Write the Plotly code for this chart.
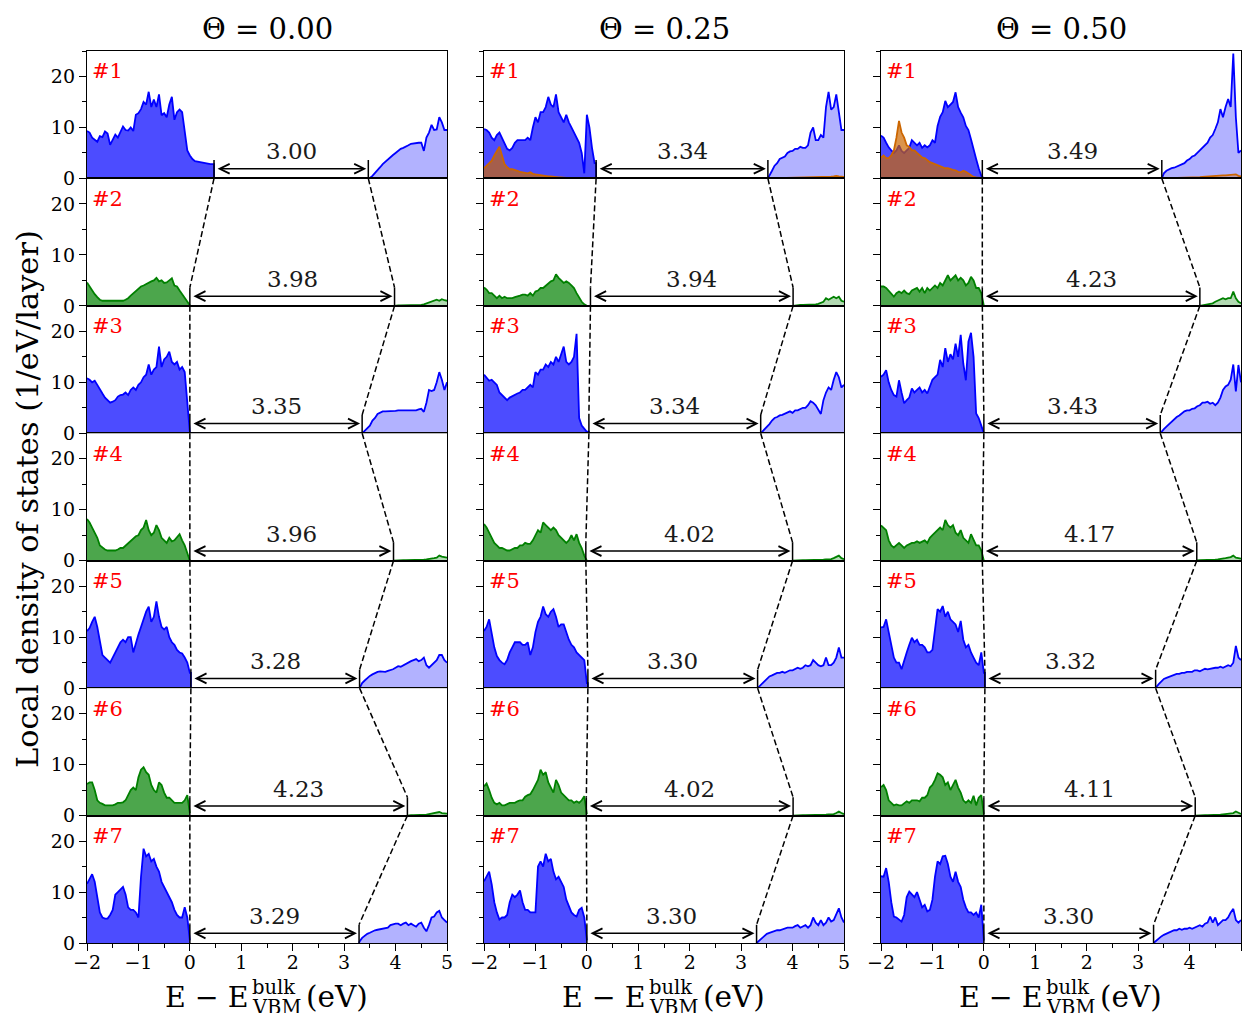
import plotly.graph_objects as go

W, H = 1244, 1013

THETA_LABELS = ["Θ = 0.00", "Θ = 0.25", "Θ = 0.50"]
LAYER_LABELS = ["#1", "#2", "#3", "#4", "#5", "#6", "#7"]
X_TICKS = [-2, -1, 0, 1, 2, 3, 4, 5]
Y_TICKS = [0, 10, 20]

# energy sampling grids (eV)
E_VB = [-2.0, -1.95, -1.9, -1.85, -1.8, -1.75, -1.7, -1.65, -1.6, -1.55, -1.5, -1.45, -1.4, -1.35,
        -1.3, -1.25, -1.2, -1.15, -1.1, -1.05, -1.0, -0.95, -0.9, -0.85, -0.8, -0.75, -0.7, -0.65,
        -0.6, -0.55, -0.5, -0.45, -0.4, -0.35, -0.3, -0.25, -0.2, -0.15, -0.1, -0.05, 0.0, 0.05,
        0.1, 0.15, 0.2, 0.25, 0.3, 0.35, 0.4, 0.45, 0.5]
E_CB = [3.0, 3.05, 3.1, 3.15, 3.2, 3.25, 3.3, 3.35, 3.4, 3.45, 3.5, 3.55, 3.6, 3.65, 3.7, 3.75,
        3.8, 3.85, 3.9, 3.95, 4.0, 4.05, 4.1, 4.15, 4.2, 4.25, 4.3, 4.35, 4.4, 4.45, 4.5, 4.55,
        4.6, 4.65, 4.7, 4.75, 4.8, 4.85, 4.9, 4.95, 5.0]

# band edges per layer (eV)
VBM_T000 = [0.47, 0.0, 0.0, 0.0, 0.02, 0.0, 0.0]
GAP_T000 = [3.00, 3.98, 3.35, 3.96, 3.28, 4.23, 3.29]
VBM_T025 = [0.18, 0.07, 0.04, -0.02, 0.02, -0.01, 0.0]
GAP_T025 = [3.34, 3.94, 3.34, 4.02, 3.30, 4.02, 3.30]
VBM_T050 = [-0.03, -0.03, 0.0, -0.03, 0.02, 0.0, 0.0]
GAP_T050 = [3.49, 4.23, 3.43, 4.17, 3.32, 4.11, 3.30]

# ---------------- Theta = 0.00 ----------------
vb_t000_l1 = [9.3, 9.0, 8.0, 7.5, 7.2, 8.3, 8.1, 9.2, 8.8, 6.6, 7.5, 8.6, 8.0, 9.0, 10.2, 9.5, 9.4, 10.0, 9.3, 12.5,
              12.8, 13.6, 15.0, 14.5, 17.0, 14.0, 15.5, 14.0, 16.5, 12.4, 12.8, 12.0, 14.5, 16.0, 11.5, 13.0,
              13.5, 13.0, 9.0, 5.5, 4.5, 3.8, 3.4, 3.3, 3.2, 3.0, 2.9, 2.8, 2.8, 2.8]
cb_t000_l1 = [0.1, 0.5, 1.0, 1.6, 2.2, 2.8, 3.3, 3.8, 4.2, 4.6, 5.0, 5.4, 5.8, 6.0, 6.2, 6.5, 6.8, 6.9, 6.9, 7.0,
              7.0, 5.4, 8.0, 9.0, 10.5, 9.5, 9.6, 12.0, 11.0, 9.5, 9.5]
vb_t000_l2 = [4.6, 3.8, 3.0, 2.3, 1.7, 1.2, 1.0, 1.0, 1.0, 1.0, 1.0, 1.0, 1.0, 1.0, 1.0, 1.2, 1.5, 2.0, 2.5, 3.0,
              3.3, 3.8, 4.0, 4.3, 4.5, 4.8, 5.0, 5.5, 4.8, 5.0, 4.5, 4.6, 5.0, 5.4, 4.0, 3.8, 3.0, 2.3, 1.5, 0.7, 0.1]
cb_t000_l2 = [0.05, 0.1, 0.1, 0.1, 0.1, 0.1, 0.1, 0.1, 0.1, 0.1, 0.2, 0.3, 0.5, 0.6, 0.8, 1.0, 1.2, 1.0, 1.3, 1.1, 1.0]
vb_t000_l3 = [10.8, 10.5, 10.0, 10.3, 9.5, 8.5, 7.8, 7.0, 6.5, 6.0, 6.2, 6.5, 7.2, 7.5, 7.6, 8.0, 7.5, 8.5, 9.0, 8.5,
              9.5, 10.0, 11.0, 11.5, 13.5, 11.5, 12.5, 13.0, 17.0, 13.0, 14.5, 15.0, 16.0, 14.0, 13.5, 14.0,
              12.5, 13.0, 12.0, 6.0, 0.2]
cb_t000_l3 = [0.5, 1.0, 1.5, 2.5, 3.0, 3.8, 4.1, 4.3, 4.3, 4.3, 4.3, 4.4, 4.4, 4.5, 4.5, 4.4, 4.4, 4.5, 4.5, 4.5,
              4.5, 4.7, 4.8, 4.2, 6.0, 8.5, 8.3, 8.5, 10.0, 12.0, 10.5, 8.5, 10.0]
vb_t000_l4 = [8.2, 7.5, 6.5, 5.5, 4.5, 3.0, 2.5, 2.2, 2.0, 2.0, 2.0, 2.0, 2.2, 2.5, 2.5, 3.0, 3.5, 4.0, 4.3, 4.8,
              5.0, 6.0, 6.5, 8.0, 6.0, 5.0, 5.5, 7.0, 6.0, 4.5, 4.0, 3.5, 4.5, 3.8, 4.0, 4.5, 5.2, 4.0, 3.0, 1.5, 0.0]
cb_t000_l4 = [0.05, 0.1, 0.1, 0.1, 0.1, 0.1, 0.1, 0.1, 0.1, 0.15, 0.2, 0.2, 0.25, 0.3, 0.4, 0.5, 0.6, 1.0, 0.8, 0.7, 0.6]
vb_t000_l5 = [11.2, 11.8, 13.0, 14.0, 12.0, 9.5, 6.5, 6.0, 5.5, 5.0, 6.0, 7.0, 8.0, 9.0, 9.5, 9.0, 10.0, 10.0, 7.0, 9.0,
              10.5, 12.0, 13.5, 15.0, 16.0, 13.0, 14.0, 17.0, 14.0, 12.0, 11.5, 12.0, 10.0, 9.0, 8.5, 7.5, 7.0,
              6.8, 6.0, 5.0, 3.0]
cb_t000_l5 = [0.3, 1.0, 1.5, 2.0, 2.4, 2.7, 3.0, 3.2, 3.3, 3.3, 3.2, 3.4, 3.5, 3.7, 4.0, 4.3, 4.2, 4.5, 4.8, 5.0,
              5.3, 5.5, 5.7, 5.3, 5.5, 6.0, 4.5, 4.0, 4.5, 5.0, 5.5, 6.5, 6.5, 5.5, 5.0]
vb_t000_l6 = [6.2, 6.5, 6.5, 5.0, 3.0, 2.5, 2.3, 2.0, 2.0, 2.0, 2.0, 2.2, 2.5, 2.5, 2.6, 3.0, 4.0, 5.0, 5.5, 5.0,
              7.5, 9.0, 9.5, 8.5, 8.0, 6.0, 5.0, 4.5, 6.5, 6.0, 4.5, 3.5, 3.5, 3.0, 2.5, 2.5, 2.5, 2.5, 3.0, 4.0, 0.5]
cb_t000_l6 = [0.05, 0.1, 0.1, 0.1, 0.1, 0.1, 0.15, 0.2, 0.3, 0.4, 0.5, 0.6, 0.7, 0.5, 0.5, 0.4]
vb_t000_l7 = [11.6, 12.5, 13.5, 12.0, 9.0, 6.0, 5.0, 4.8, 4.8, 5.5, 6.5, 9.5, 10.0, 10.5, 11.0, 9.5, 7.0, 6.5, 6.5, 6.0,
              5.0, 13.0, 18.5, 17.0, 17.5, 16.0, 16.5, 15.0, 14.0, 12.0, 11.0, 10.0, 9.0, 8.0, 6.5, 5.5, 5.0,
              5.0, 7.0, 5.0, 0.5]
cb_t000_l7 = [0.3, 1.0, 1.5, 1.8, 2.0, 2.3, 2.5, 2.6, 2.7, 2.8, 3.0, 3.0, 3.5, 3.7, 3.8, 3.8, 3.5, 3.8, 4.0, 3.5,
              3.8, 3.5, 3.2, 3.8, 4.0, 3.0, 2.3, 3.5, 5.0, 5.2, 6.0, 6.3, 5.0, 4.5, 4.0]

# ---------------- Theta = 0.25 ----------------
vb_t025_l1 = [9.7, 9.5, 9.0, 8.0, 7.5, 8.5, 9.0, 8.0, 7.0, 5.8, 5.5, 6.0, 7.0, 7.5, 7.5, 7.5, 7.5, 8.0, 7.5, 10.0,
              12.0, 11.0, 13.0, 13.0, 14.0, 16.0, 14.5, 14.0, 16.5, 13.0, 12.0, 11.0, 12.5, 11.0, 10.0, 9.0,
              8.0, 7.0, 5.0, 1.0, 12.5, 10.0, 6.0, 3.0]
ob_t025_l1 = [2.0, 2.5, 3.0, 3.5, 4.5, 5.5, 6.2, 4.5, 2.8, 2.2, 1.8, 1.8, 1.7, 1.5, 1.3, 1.2, 1.2, 1.0, 1.2, 0.9,
              0.8, 0.7, 0.6, 0.5, 0.5, 0.4, 0.4, 0.3, 0.3, 0.2, 0.2, 0.1, 0.1, 0.05, 0.05, 0.0, 0.0, 0.0, 0.0,
              0.0, 0.0]
cb_t025_l1 = [0.5, 1.5, 2.5, 3.0, 3.8, 4.0, 4.3, 5.0, 5.3, 5.4, 5.8, 5.8, 6.2, 6.0, 6.0, 6.5, 9.0, 10.0, 7.5, 7.5,
              8.5, 8.0, 14.0, 17.0, 13.5, 14.0, 16.5, 13.0, 9.5, 9.5]
oc_t025_l1 = [0.1, 0.1, 0.1, 0.1, 0.15, 0.15, 0.2, 0.2, 0.2, 0.25, 0.3, 0.3, 0.3, 0.3, 0.35, 0.35, 0.4, 0.5, 0.4,
              0.35, 0.3]
vb_t025_l2 = [3.6, 3.2, 2.5, 2.5, 2.0, 1.5, 2.0, 1.5, 1.8, 1.5, 1.5, 1.5, 1.7, 1.8, 2.0, 2.2, 2.2, 2.0, 2.5, 2.0,
              2.8, 3.0, 3.5, 3.5, 4.0, 4.5, 4.8, 5.0, 6.2, 5.5, 5.0, 4.5, 4.8, 4.5, 4.0, 3.5, 2.5, 1.5, 0.8, 0.3, 0.0]
cb_t025_l2 = [0.1, 0.15, 0.2, 0.2, 0.2, 0.2, 0.2, 0.25, 0.3, 0.4, 0.6, 0.8, 1.5, 1.2, 1.5, 1.8, 1.5, 1.8, 1.0, 0.8]
vb_t025_l3 = [11.5, 11.0, 10.3, 10.5, 10.0, 9.5, 8.0, 7.5, 7.0, 6.5, 7.0, 7.3, 7.5, 7.8, 8.0, 8.5, 8.5, 9.0, 9.5, 9.0,
              12.0, 11.5, 12.5, 12.5, 13.5, 13.0, 14.0, 13.5, 15.0, 14.0, 15.5, 17.0, 14.0, 13.5, 14.0, 15.0,
              19.5, 3.0, 1.5, 0.8, 0.3]
cb_t025_l3 = [0.2, 0.8, 1.3, 1.8, 2.5, 3.0, 3.2, 3.5, 3.6, 3.8, 4.0, 4.3, 4.0, 4.5, 4.5, 4.8, 5.0, 5.0, 5.5, 6.3,
              6.0, 5.5, 4.5, 3.8, 6.5, 8.0, 9.0, 8.5, 10.5, 12.0, 11.0, 9.0, 9.5]
vb_t025_l4 = [7.2, 6.5, 5.5, 4.6, 3.5, 3.0, 2.5, 2.5, 2.2, 2.0, 2.0, 2.3, 2.5, 2.5, 3.0, 3.0, 3.5, 3.3, 3.3, 4.0,
              5.0, 6.0, 5.5, 7.5, 7.0, 6.5, 6.0, 6.5, 6.0, 5.0, 4.5, 4.0, 3.5, 4.0, 5.0, 4.0, 5.2, 3.5, 2.5, 1.0, 0.0]
cb_t025_l4 = [0.05, 0.1, 0.1, 0.1, 0.1, 0.1, 0.1, 0.15, 0.15, 0.2, 0.2, 0.2, 0.25, 0.3, 0.3, 0.5, 0.8, 1.0, 0.5, 0.3]
vb_t025_l5 = [11.2, 12.0, 13.5, 11.0, 8.0, 6.3, 5.5, 5.0, 4.7, 5.5, 7.0, 8.0, 9.0, 9.0, 9.0, 8.5, 8.5, 9.0, 6.5, 8.0,
              11.0, 13.0, 14.0, 16.0, 14.5, 14.0, 15.0, 15.5, 14.0, 12.0, 12.5, 12.5, 11.0, 9.5, 8.5, 8.0, 7.0,
              6.5, 6.0, 5.5, 1.0]
cb_t025_l5 = [0.3, 1.0, 1.5, 2.0, 2.3, 2.5, 2.8, 3.0, 3.0, 3.2, 3.0, 3.3, 3.5, 3.5, 3.7, 4.0, 3.8, 4.0, 4.5, 4.3,
              4.5, 5.5, 5.0, 4.5, 4.3, 4.5, 6.0, 4.5, 4.5, 5.0, 6.0, 8.0, 6.0, 6.0]
vb_t025_l6 = [5.7, 6.3, 5.0, 3.5, 2.5, 2.2, 2.5, 2.0, 2.0, 2.3, 2.5, 2.5, 2.5, 2.8, 3.0, 3.0, 3.7, 4.0, 4.2, 5.0,
              6.0, 7.0, 9.0, 8.0, 8.5, 6.5, 5.5, 4.5, 7.0, 6.0, 4.5, 4.0, 3.5, 3.0, 3.0, 2.5, 2.8, 2.5, 3.0, 3.8, 0.3]
cb_t025_l6 = [0.05, 0.1, 0.1, 0.1, 0.1, 0.1, 0.1, 0.1, 0.15, 0.15, 0.2, 0.2, 0.2, 0.25, 0.3, 0.3, 0.5, 0.8, 0.5, 0.3]
vb_t025_l7 = [12.1, 13.0, 14.0, 11.5, 8.0, 6.0, 4.6, 5.0, 5.0, 5.5, 8.0, 9.5, 9.0, 9.5, 10.3, 8.0, 6.5, 6.5, 6.0, 6.0,
              6.0, 15.0, 16.0, 15.0, 17.5, 16.0, 16.5, 14.0, 12.5, 13.0, 12.0, 11.0, 8.5, 7.2, 6.0, 5.5, 5.2,
              6.5, 6.9, 5.0, 0.5]
cb_t025_l7 = [0.5, 1.0, 1.5, 1.8, 2.0, 2.2, 2.3, 2.5, 2.5, 2.7, 2.8, 3.0, 3.0, 3.0, 3.3, 3.5, 3.0, 3.2, 3.5, 3.0,
              3.5, 5.0, 4.0, 3.5, 4.5, 3.5, 4.0, 5.0, 4.2, 4.5, 5.5, 6.8, 5.0, 4.0]

# ---------------- Theta = 0.50 ----------------
vb_t050_l1 = [8.4, 8.0, 7.0, 6.1, 5.5, 5.0, 5.5, 6.5, 5.4, 5.0, 5.5, 6.0, 7.5, 7.0, 6.5, 7.0, 6.0, 6.5, 6.1, 6.5,
              7.5, 7.0, 10.3, 12.1, 13.0, 15.2, 14.0, 14.5, 15.0, 16.9, 14.0, 12.9, 12.0, 10.3, 9.5, 7.7, 6.0,
              3.8, 2.0, 0.5, 0.0]
ob_t050_l1 = [4.1, 4.5, 4.0, 4.0, 4.5, 5.5, 8.0, 11.3, 9.0, 8.0, 6.5, 6.2, 5.5, 5.5, 5.0, 4.5, 4.1, 4.0, 3.5, 3.2,
              3.0, 2.8, 2.6, 2.5, 2.3, 2.0, 2.0, 1.8, 1.7, 1.6, 1.3, 1.2, 1.5, 1.3, 1.0, 0.6, 0.3, 0.2, 0.1, 0.0, 0.0]
cb_t050_l1 = [1.0, 1.5, 1.8, 2.0, 2.1, 2.3, 2.5, 2.8, 3.0, 3.5, 3.8, 4.3, 4.5, 5.0, 5.5, 6.0, 6.5, 7.0, 8.0, 8.5,
              9.7, 11.0, 13.6, 12.0, 14.0, 15.6, 14.0, 24.5, 12.0, 5.0, 5.5]
oc_t050_l1 = [0.1, 0.15, 0.2, 0.2, 0.25, 0.3, 0.35, 0.4, 0.4, 0.45, 0.5, 0.5, 0.55, 0.6, 0.6, 0.65, 0.7, 0.8, 0.8,
              0.5, 0.4]
vb_t050_l2 = [3.8, 3.8, 3.5, 3.0, 2.3, 1.8, 2.5, 2.8, 2.5, 3.0, 2.5, 2.3, 3.0, 3.3, 3.5, 2.8, 3.5, 2.5, 3.5, 3.0,
              3.5, 4.0, 3.5, 4.5, 4.0, 5.0, 6.0, 5.0, 5.5, 6.0, 5.0, 5.5, 5.0, 4.0, 4.5, 5.7, 5.0, 3.5, 3.5, 2.5, 0.0]
cb_t050_l2 = [0.1, 0.2, 0.25, 0.3, 0.5, 0.8, 1.0, 1.2, 1.5, 1.3, 1.5, 1.5, 2.8, 1.5, 0.8, 0.5]
vb_t050_l3 = [11.1, 11.5, 12.4, 10.0, 8.5, 7.5, 7.2, 10.4, 8.0, 5.9, 6.5, 7.0, 8.8, 8.0, 8.5, 9.0, 8.0, 8.5, 7.8, 9.0,
              10.5, 11.0, 11.5, 14.4, 13.0, 16.7, 14.0, 15.5, 14.5, 17.6, 15.0, 19.3, 13.7, 10.4, 18.0, 19.7,
              15.0, 3.9, 3.0, 1.5, 0.0]
cb_t050_l3 = [0.3, 0.8, 1.3, 1.8, 2.2, 2.9, 3.2, 3.5, 4.0, 4.3, 4.5, 4.5, 4.8, 4.9, 5.3, 5.5, 6.0, 6.0, 6.2, 5.8,
              6.0, 5.5, 6.0, 7.0, 8.5, 9.2, 9.5, 10.5, 13.5, 8.2, 13.4, 10.0]
vb_t050_l4 = [6.9, 6.5, 6.0, 4.0, 3.0, 2.6, 3.0, 3.5, 3.0, 2.5, 3.0, 3.2, 3.5, 3.5, 3.8, 3.5, 3.8, 4.0, 3.5, 4.5,
              5.0, 5.5, 6.0, 6.5, 6.0, 8.0, 7.0, 6.5, 7.0, 5.5, 5.0, 6.0, 4.5, 4.0, 3.5, 5.2, 4.0, 3.0, 3.0, 2.0, 0.0]
cb_t050_l4 = [0.05, 0.1, 0.1, 0.1, 0.1, 0.15, 0.2, 0.2, 0.25, 0.3, 0.4, 0.5, 0.6, 0.7, 1.0, 0.6, 0.5, 0.4]
vb_t050_l5 = [11.9, 12.0, 13.5, 11.0, 8.5, 6.0, 5.0, 5.0, 3.7, 5.5, 7.0, 8.5, 9.9, 9.0, 9.5, 8.5, 8.5, 8.0, 7.0, 7.0,
              7.5, 11.5, 15.5, 15.0, 16.1, 14.0, 15.0, 13.5, 13.0, 12.5, 11.0, 13.2, 9.5, 8.0, 8.5, 7.0, 6.0,
              5.0, 4.5, 7.0, 3.0]
cb_t050_l5 = [0.2, 0.8, 1.3, 1.8, 2.0, 2.2, 2.5, 2.7, 2.8, 2.8, 3.0, 3.0, 3.2, 3.2, 3.2, 3.5, 3.5, 3.3, 3.5, 3.8,
              3.7, 3.8, 4.0, 4.0, 4.0, 4.2, 4.0, 4.3, 4.5, 4.3, 5.0, 8.3, 6.0, 5.5]
vb_t050_l6 = [5.6, 6.0, 5.0, 3.0, 2.5, 2.0, 2.2, 2.0, 2.0, 2.5, 2.8, 2.5, 3.0, 3.0, 3.0, 2.8, 3.5, 3.5, 4.0, 5.5,
              6.0, 7.0, 8.3, 8.0, 7.5, 6.0, 6.5, 5.0, 6.0, 7.0, 5.5, 4.5, 3.0, 2.5, 3.0, 2.5, 3.9, 2.0, 3.5, 4.0, 0.3]
cb_t050_l6 = [0.05, 0.1, 0.1, 0.1, 0.1, 0.1, 0.15, 0.15, 0.2, 0.2, 0.25, 0.3, 0.3, 0.4, 0.5, 0.8, 0.5, 0.3]
vb_t050_l7 = [13.1, 13.0, 14.7, 12.0, 8.0, 5.2, 5.0, 4.5, 4.2, 5.5, 9.0, 10.1, 9.5, 9.0, 10.0, 8.5, 7.0, 7.5, 6.2, 6.5,
              8.5, 13.0, 16.0, 15.5, 17.0, 17.1, 15.5, 13.0, 12.0, 14.0, 12.0, 11.0, 8.5, 7.0, 6.0, 6.0, 5.5,
              6.0, 5.0, 7.5, 0.5]
cb_t050_l7 = [0.5, 1.0, 1.3, 1.6, 1.8, 2.0, 2.2, 2.5, 2.5, 2.8, 2.6, 2.8, 2.8, 3.0, 2.8, 3.0, 3.2, 3.5, 3.2, 3.8,
              4.0, 5.2, 4.0, 5.0, 3.5, 4.0, 4.5, 4.5, 5.0, 6.0, 6.7, 4.5, 4.0, 4.5]

# ---- tables built from the named arrays ----
VB = [[vb_t000_l1, vb_t000_l2, vb_t000_l3, vb_t000_l4, vb_t000_l5, vb_t000_l6, vb_t000_l7],
      [vb_t025_l1, vb_t025_l2, vb_t025_l3, vb_t025_l4, vb_t025_l5, vb_t025_l6, vb_t025_l7],
      [vb_t050_l1, vb_t050_l2, vb_t050_l3, vb_t050_l4, vb_t050_l5, vb_t050_l6, vb_t050_l7]]
CB = [[cb_t000_l1, cb_t000_l2, cb_t000_l3, cb_t000_l4, cb_t000_l5, cb_t000_l6, cb_t000_l7],
      [cb_t025_l1, cb_t025_l2, cb_t025_l3, cb_t025_l4, cb_t025_l5, cb_t025_l6, cb_t025_l7],
      [cb_t050_l1, cb_t050_l2, cb_t050_l3, cb_t050_l4, cb_t050_l5, cb_t050_l6, cb_t050_l7]]
OB = {1: (ob_t025_l1, oc_t025_l1), 2: (ob_t050_l1, oc_t050_l1)}
VBM = [VBM_T000, VBM_T025, VBM_T050]
GAP = [GAP_T000, GAP_T025, GAP_T050]

# ---- styling / layout geometry ----
FONT = "DejaVu Serif"
COL_PX = [(87, 447), (484, 844), (881, 1241)]
TOP_PX, BOT_PX = 51, 943
ROW_H = (BOT_PX - TOP_PX) / 7.0
YMAX = 25.0
TICK_TOP = 3.6
ARROW_Y = 1.9
LABEL_Y = 5.3

BLUE = ("rgb(0,0,255)", "rgba(0,0,255,0.7)", "rgba(0,0,255,0.3)")
GREEN = ("rgb(0,128,0)", "rgba(0,128,0,0.7)", "rgba(0,128,0,0.3)")
ORANGE = ("rgb(204,102,0)", "rgba(204,102,0,0.7)", "rgba(204,102,0,0.3)")


def xdom(c):
    a, b = COL_PX[c]
    return [a / W, b / W]


def ydom(r):
    top = TOP_PX + r * ROW_H
    bot = top + ROW_H
    return [1 - bot / H, 1 - top / H]


def ypaper(r, v):
    d = ydom(r)
    return d[0] + v / YMAX * (d[1] - d[0])


def axid(r, c):
    k = r * 3 + c + 1
    return ("x" if k == 1 else f"x{k}"), ("y" if k == 1 else f"y{k}"), k


def val_xy(vals, vbm):
    xs = list(E_VB[:len(vals)])
    ys = list(vals)
    if vbm > xs[-1] + 1e-9:
        xs += [vbm, vbm]
        ys += [ys[-1], 0.0]
    return xs, ys


def cond_xy(vals, cbm):
    pts = [(x, y) for x, y in zip(E_CB[-len(vals):], vals) if x > cbm + 1e-9]
    return [cbm] + [p[0] for p in pts], [0.0] + [p[1] for p in pts]


fig = go.Figure()
layout = dict(width=W, height=H, autosize=False,
              margin=dict(l=0, r=0, t=0, b=0, pad=0, autoexpand=False), showlegend=False,
              plot_bgcolor="white", paper_bgcolor="white", font=dict(family=FONT, color="black"))
shapes, annotations = [], []

for c in range(3):
    for r in range(7):
        xid, yid, k = axid(r, c)
        vbm = VBM[c][r]
        gap = GAP[c][r]
        cbm = vbm + gap
        col = BLUE if r % 2 == 0 else GREEN

        xs, ys = val_xy(VB[c][r], vbm)
        fig.add_trace(go.Scatter(x=xs, y=ys, xaxis=xid, yaxis=yid, mode="lines", fill="tozeroy",
                                 fillcolor=col[1], line=dict(color=col[0], width=1.8), hoverinfo="skip"))
        xs, ys = cond_xy(CB[c][r], cbm)
        fig.add_trace(go.Scatter(x=xs, y=ys, xaxis=xid, yaxis=yid, mode="lines", fill="tozeroy",
                                 fillcolor=col[2], line=dict(color=col[0], width=1.8), hoverinfo="skip"))
        if r == 0 and c in OB:
            ov, oc = OB[c]
            xs, ys = val_xy(ov, vbm)
            fig.add_trace(go.Scatter(x=xs, y=ys, xaxis=xid, yaxis=yid, mode="lines", fill="tozeroy",
                                     fillcolor=ORANGE[1], line=dict(color=ORANGE[0], width=1.8),
                                     hoverinfo="skip"))
            xs, ys = cond_xy(oc, cbm)
            fig.add_trace(go.Scatter(x=xs, y=ys, xaxis=xid, yaxis=yid, mode="lines", fill="tozeroy",
                                     fillcolor=ORANGE[2], line=dict(color=ORANGE[0], width=1.8),
                                     hoverinfo="skip"))

        bottom = (r == 6)
        layout["xaxis" if k == 1 else f"xaxis{k}"] = dict(
            domain=xdom(c), anchor=yid, range=[-2, 5], showgrid=False, zeroline=False, automargin=False,
            showline=True, mirror=True, linecolor="black", linewidth=1.4,
            tickmode="linear", tick0=0, dtick=1,
            ticks="outside" if bottom else "", ticklen=7, tickwidth=1.4, tickcolor="black",
            showticklabels=bottom, tickfont=dict(family=FONT, size=19, color="black"),
            ticklabelstandoff=-5,
            minor=dict(ticks="outside" if bottom else "", dtick=0.5, tick0=0, ticklen=4,
                       tickwidth=1.2, tickcolor="black"),
            fixedrange=True)
        layout["yaxis" if k == 1 else f"yaxis{k}"] = dict(
            domain=ydom(r), anchor=xid, range=[0, YMAX], showgrid=False, zeroline=False, automargin=False,
            showline=True, mirror=True, linecolor="black", linewidth=1.4,
            tickmode="linear", tick0=0, dtick=10,
            ticks="outside", ticklen=7, tickwidth=1.4, tickcolor="black",
            showticklabels=(c == 0), tickfont=dict(family=FONT, size=19, color="black"),
            minor=dict(ticks="outside", dtick=5, tick0=0, ticklen=4, tickwidth=1.2, tickcolor="black"),
            fixedrange=True)

        # band-edge markers
        for e in (vbm, cbm):
            shapes.append(dict(type="line", xref=xid, yref=yid, x0=e, x1=e, y0=0, y1=TICK_TOP,
                               line=dict(color="black", width=1.5), layer="above"))
        # double arrow
        annotations.append(dict(xref=xid, yref=yid, axref=xid, ayref=yid,
                                x=cbm - 0.04, y=ARROW_Y, ax=vbm + 0.04, ay=ARROW_Y, text="",
                                showarrow=True, arrowside="end+start", arrowhead=5, startarrowhead=5,
                                arrowsize=1.3, startarrowsize=1.3, arrowwidth=1.5, arrowcolor="black",
                                standoff=0, startstandoff=0))
        annotations.append(dict(xref=xid, yref=yid, x=(vbm + cbm) / 2, y=LABEL_Y, text=f"{gap:.2f}",
                                showarrow=False, xanchor="center", yanchor="middle",
                                font=dict(family=FONT, size=23, color="#1a1a1a")))
        annotations.append(dict(xref=f"{xid} domain", yref=f"{yid} domain", x=0.008, y=0.95,
                                text=LAYER_LABELS[r], showarrow=False, xanchor="left", yanchor="top",
                                font=dict(family=FONT, size=21, color="red")))

    # dashed connectors between consecutive layers
    xid_c = axid(6, c)[0]
    for r in range(6):
        for edges in ((VBM[c][r], VBM[c][r + 1]),
                      (VBM[c][r] + GAP[c][r], VBM[c][r + 1] + GAP[c][r + 1])):
            shapes.append(dict(type="line", xref=xid_c, yref="paper",
                               x0=edges[0], y0=ypaper(r, 0), x1=edges[1], y1=ypaper(r + 1, TICK_TOP),
                               line=dict(color="black", width=1.5, dash="6px,3px"), layer="above"))

    # column titles and x-axis labels
    cx = sum(COL_PX[c]) / 2
    annotations.append(dict(xref="paper", yref="paper", x=cx / W, y=1 - 29 / H, text=THETA_LABELS[c],
                            showarrow=False, xanchor="center", yanchor="middle",
                            font=dict(family=FONT, size=29, color="black")))
    annotations.append(dict(xref="paper", yref="paper", x=(cx - 17) / W, y=1 - 997 / H,
                            text="E − E",
                            showarrow=False, xanchor="right", yanchor="middle", borderpad=0,
                            font=dict(family=FONT, size=28.5, color="black")))
    annotations.append(dict(xref="paper", yref="paper", x=(cx - 16) / W, y=1 - 987 / H, text="bulk",
                            showarrow=False, xanchor="left", yanchor="middle", borderpad=0,
                            font=dict(family=FONT, size=19.5, color="black")))
    annotations.append(dict(xref="paper", yref="paper", x=(cx - 16) / W, y=1 - 1007 / H, text="VBM",
                            showarrow=False, xanchor="left", yanchor="middle", borderpad=0,
                            font=dict(family=FONT, size=19.5, color="black")))
    annotations.append(dict(xref="paper", yref="paper", x=(cx + 38) / W, y=1 - 997 / H, text="(eV)",
                            showarrow=False, xanchor="left", yanchor="middle", borderpad=0,
                            font=dict(family=FONT, size=29.5, color="black")))

annotations.append(dict(xref="paper", yref="paper", x=27 / W, y=1 - 499 / H,
                        text="Local density of states (1/eV/layer)", textangle=-90,
                        showarrow=False, xanchor="center", yanchor="middle",
                        font=dict(family=FONT, size=30.5, color="black")))

layout["shapes"] = shapes
layout["annotations"] = annotations
fig.update_layout(**layout)
fig.write_html("out.html", config={"displayModeBar": False},
               post_script="document.body.style.margin='0';document.body.style.overflow='hidden';")
